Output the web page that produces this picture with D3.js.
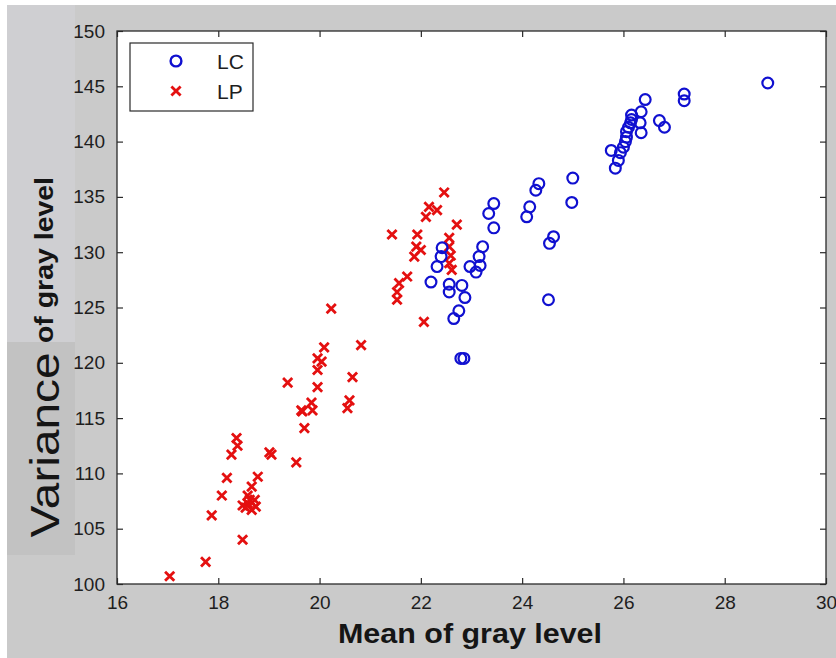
<!DOCTYPE html>
<html>
<head>
<meta charset="utf-8">
<script src="https://cdn.jsdelivr.net/npm/d3@7"></script>
<style>
  html, body { margin: 0; padding: 0; background: #ffffff; }
  svg { display: block; }
  text { font-family: "Liberation Sans", Arial, sans-serif; }
</style>
</head>
<body>
<script>
// LC group: mean / variance of gray level
const lcMean = [28.85, 27.20, 27.20, 26.71, 26.81, 26.43, 26.35, 26.16, 26.16, 26.14,
  26.10, 26.33, 26.35, 26.06, 26.06, 26.04, 26.00, 25.76, 25.94, 25.90,
  25.84, 25.00, 24.98, 24.33, 24.27, 24.15, 24.09, 24.62, 24.54, 24.52,
  23.44, 23.34, 23.44, 23.22, 23.15, 23.17, 22.97, 23.09, 22.42, 22.40,
  22.32, 22.20, 22.56, 22.56, 22.81, 22.87, 22.75, 22.65, 22.79, 22.85];
const lcVar = [145.3, 144.3, 143.7, 141.9, 141.3, 143.8, 142.7, 142.4, 142.0, 141.7,
  141.3, 141.7, 140.8, 140.9, 140.4, 140.0, 139.5, 139.2, 139.0, 138.3,
  137.6, 136.7, 134.5, 136.2, 135.6, 134.1, 133.2, 131.4, 130.8, 125.7,
  134.4, 133.5, 132.2, 130.5, 129.6, 128.8, 128.7, 128.2, 130.4, 129.6,
  128.7, 127.3, 127.1, 126.4, 127.0, 125.9, 124.7, 124.0, 120.4, 120.4];

// LP group
const lpMean = [17.04, 17.75, 18.48, 17.87, 18.07, 18.17, 18.36, 18.38, 18.26, 18.78,
  18.66, 18.58, 18.72, 18.48, 18.58, 18.66, 18.54, 18.74, 18.62, 19.01,
  19.05, 19.54, 19.37, 19.66, 19.84, 19.70, 19.64, 19.86, 19.96, 19.96,
  19.96, 20.04, 20.09, 20.23, 20.82, 20.65, 20.59, 20.55, 21.43, 21.53,
  21.53, 21.57, 21.73, 21.87, 21.91, 22.00, 21.93, 22.06, 22.10, 22.16,
  22.32, 22.46, 22.71, 22.56, 22.56, 22.59, 22.56, 22.61];
const lpVar = [100.7, 102.0, 104.0, 106.2, 108.0, 109.6, 113.2, 112.5, 111.7, 109.7,
  108.8, 108.0, 107.6, 107.1, 107.3, 106.7, 106.9, 107.0, 107.6, 111.9,
  111.7, 111.0, 118.2, 115.6, 116.4, 114.1, 115.7, 115.7, 119.35, 117.8,
  120.4, 120.1, 121.4, 124.9, 121.6, 118.7, 116.6, 115.9, 131.6, 125.7,
  126.4, 127.2, 127.8, 129.6, 130.5, 130.2, 131.6, 123.7, 133.2, 134.1,
  133.8, 135.4, 132.5, 131.3, 130.5, 129.7, 129.0, 128.4];

const xTicks = [16, 18, 20, 22, 24, 26, 28, 30];
const yTicks = [100, 105, 110, 115, 120, 125, 130, 135, 140, 145, 150];
const seriesNames = ["LC", "LP"];

const W = 836, H = 658;
const plot = { left: 117, right: 826, top: 31, bottom: 584 };
const blue = "#1010d0", red = "#e41010";

const svg = d3.select("body").append("svg").attr("width", W).attr("height", H);

// figure background
svg.append("rect").attr("x", 7).attr("y", 5).attr("width", W - 7).attr("height", H - 5)
  .attr("fill", "#cacaca");
svg.append("rect").attr("x", 7).attr("y", 5).attr("width", 68).attr("height", 337)
  .attr("fill", "#cfcfd2");
svg.append("rect").attr("x", 7).attr("y", 342).attr("width", 68).attr("height", 213)
  .attr("fill", "#c2c2c2");

const x = d3.scaleLinear().domain([16, 30]).range([plot.left, plot.right]);
const y = d3.scaleLinear().domain([100, 150]).range([plot.bottom, plot.top]);

svg.append("rect").attr("x", plot.left).attr("y", plot.top)
  .attr("width", plot.right - plot.left).attr("height", plot.bottom - plot.top)
  .attr("fill", "#ffffff");

const axisColor = "#2a2a2a";
function styleAxis(g, labels) {
  g.select(".domain").remove();
  g.selectAll(".tick line").attr("stroke", axisColor).attr("stroke-width", 1.2);
  g.selectAll(".tick text")
    .attr("fill", "#1e1e1e")
    .style("font-size", "19px")
    .attr("opacity", labels ? 1 : 0);
}

// bottom / left axes with inward ticks, mirrored on top / right
svg.append("g").attr("transform", `translate(0,${plot.bottom})`)
  .call(d3.axisBottom(x).tickValues(xTicks).tickFormat(d3.format("d")).tickSize(-6).tickPadding(12))
  .call(g => styleAxis(g, true));
svg.append("g").attr("transform", `translate(0,${plot.top})`)
  .call(d3.axisTop(x).tickValues(xTicks).tickSize(-6))
  .call(g => styleAxis(g, false));
svg.append("g").attr("transform", `translate(${plot.left},0)`)
  .call(d3.axisLeft(y).tickValues(yTicks).tickFormat(d3.format("d")).tickSize(-6).tickPadding(12))
  .call(g => styleAxis(g, true));
svg.append("g").attr("transform", `translate(${plot.right},0)`)
  .call(d3.axisRight(y).tickValues(yTicks).tickSize(-6))
  .call(g => styleAxis(g, false));

svg.append("rect").attr("x", plot.left).attr("y", plot.top)
  .attr("width", plot.right - plot.left).attr("height", plot.bottom - plot.top)
  .attr("fill", "none").attr("stroke", axisColor).attr("stroke-width", 1.3);

// markers
const lcData = lcMean.map((m, i) => ({ m, v: lcVar[i] }));
const lpData = lpMean.map((m, i) => ({ m, v: lpVar[i] }));

const xPath = s => `M${-s},${-s}L${s},${s}M${-s},${s}L${s},${-s}`;

svg.append("g").selectAll("path").data(lpData).join("path")
  .attr("transform", d => `translate(${x(d.m)},${y(d.v)})`)
  .attr("d", xPath(4.6))
  .attr("fill", "none").attr("stroke", red).attr("stroke-width", 2.8);

svg.append("g").selectAll("circle").data(lcData).join("circle")
  .attr("cx", d => x(d.m)).attr("cy", d => y(d.v)).attr("r", 5.4)
  .attr("fill", "none").attr("stroke", blue).attr("stroke-width", 2.2);

// legend
const lg = svg.append("g");
lg.append("rect").attr("x", 130).attr("y", 43).attr("width", 123).attr("height", 68)
  .attr("fill", "#ffffff").attr("stroke", axisColor).attr("stroke-width", 1.2);
lg.append("circle").attr("cx", 176).attr("cy", 61).attr("r", 5.4)
  .attr("fill", "none").attr("stroke", blue).attr("stroke-width", 2.4);
lg.append("path").attr("transform", "translate(176,91)").attr("d", xPath(4.6))
  .attr("fill", "none").attr("stroke", red).attr("stroke-width", 2.8);
lg.selectAll("text.lab").data(seriesNames).join("text").attr("class", "lab")
  .attr("x", 217).attr("y", (d, i) => 69 + i * 30)
  .attr("fill", "#1e1e1e").style("font-size", "21px").text(d => d);

// axis titles
svg.append("text").attr("x", 470).attr("y", 643).attr("text-anchor", "middle")
  .attr("fill", "#151515").style("font-size", "27px").style("font-weight", "bold")
  .attr("textLength", 264).attr("lengthAdjust", "spacingAndGlyphs")
  .text("Mean of gray level");

svg.append("text").attr("transform", "translate(59,445) rotate(-90)")
  .attr("text-anchor", "middle").attr("fill", "#151515").style("font-size", "40px")
  .attr("textLength", 185).attr("lengthAdjust", "spacingAndGlyphs")
  .text("Variance");

svg.append("text").attr("transform", "translate(53,260) rotate(-90)")
  .attr("text-anchor", "middle").attr("fill", "#151515").style("font-size", "25px")
  .style("font-weight", "bold")
  .attr("textLength", 166).attr("lengthAdjust", "spacingAndGlyphs")
  .text("of gray level");
</script>
</body>
</html>
